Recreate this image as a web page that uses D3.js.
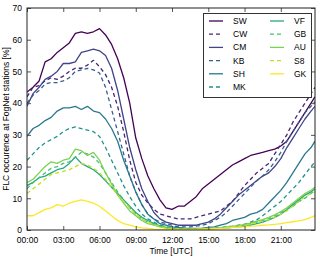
<!DOCTYPE html>
<html>
<head>
<meta charset="utf-8">
<script src="https://cdn.jsdelivr.net/npm/d3@7"></script>
<style>
  body { margin: 0; background: #fff; }
  svg { display: block; font-family: "Liberation Sans", Arial, sans-serif; }
</style>
</head>
<body>
<svg id="chart" width="320" height="257"></svg>
<script>
// time of day in hours, 30 min steps
const hours = [0,0.5,1,1.5,2,2.5,3,3.5,4,4.5,5,5.5,6,6.5,7,7.5,8,8.5,9,9.5,10,10.5,11,11.5,
  12,12.5,13,13.5,14,14.5,15,15.5,16,16.5,17,17.5,18,18.5,19,19.5,20,20.5,21,21.5,22,22.5,23,23.5,23.83];

const stations = ["SW","CW","CM","KB","SH","MK","VF","GB","AU","S8","GK"];

const SW = [43.5,45,47,53,54,56,57.5,59,62,62.5,62,62.5,63.5,61.5,58.5,54,48,40,29,22.5,17,13,9.5,7,
  6.5,7.5,7.5,9,10.5,13,14.5,16,17.5,19,20.5,21.5,22.5,23.5,24,24.5,25,25.5,26.5,28,31,34,37,40,42];
const CW = [42,45,45.5,47,48,47.5,48.5,50,51,51,52,53.5,51.5,49,45,39,31,22,15,11,8.5,6.5,5,4.5,
  4,3.5,3.5,3.5,4,4.5,5,5.5,6,7.5,9,11.5,14,16,18,19.5,21,24,27,30,34,37,40,43,45];
const CM = [39,43,45,47.5,48.5,50,52.5,52.5,53,56,56.5,57,56.5,55,51,44,35,26,19,13,9,5.5,3.5,2.5,
  2,1.5,1.5,1.5,1.5,2,2.5,3.5,5,7,9,11,12.5,14,15.5,17,18,20,22.5,26,29,32,35,37.5,39];
const KB = [40,42.5,44,46,46.5,46.5,47,48,50,50.5,51,50.5,49.5,45,38,31,24,17,12,8,5,3.5,2.5,2,
  1.5,1,1,1,1.2,1.5,2,3,4,5.5,7.5,9.5,11.5,13.5,15.5,17,19,21.5,24.5,28,31,34,37,39,40.5];
const SH = [29.5,32,33,34.5,35.5,37.5,38.5,38.5,39,38,39,37.5,37,35,32,28,22,17,12,8,5,3.5,2,1.5,
  1,0.8,0.6,0.5,0.5,0.6,0.8,1,1.5,2,3,3.5,4,5,5.5,6.5,8.5,10.5,12.5,15,18,21,24,26,28];
const MK = [22,24,26,27.5,28.5,29.5,31,32,32.5,32,31.5,31,29.5,26,22,18,14,10.5,7.5,5,3.5,2.5,1.5,1,
  0.7,0.5,0.4,0.3,0.3,0.4,0.5,0.6,0.8,1,1.2,1.5,1.8,2.5,3.2,4.5,6,7.5,9,11,13,15,17.5,20,21.5];
const VF = [14,15,16.5,17,18,19,19.5,21,23,21,20,19,17.5,15.5,13.5,11.5,9.5,7.5,5.5,4,3,2,1.3,0.8,
  0.5,0.4,0.3,0.3,0.3,0.3,0.4,0.5,0.5,0.6,0.8,1,1.2,1.5,2,2.5,3.2,4,5,6.5,8,9.5,11,12,13];
const GB = [13,15,16.5,18,19.5,20,21,21.5,23,24.5,24,23,21,18,15,12,9.5,7,5,3.5,2.5,1.8,1.2,0.8,
  0.5,0.4,0.3,0.3,0.3,0.3,0.4,0.5,0.6,0.8,1,1.2,1.5,2,2.5,3,3.5,4.5,5.5,6.5,7.5,9,10,11.5,12.5];
const AU = [15,16,18,20,21.5,21,22,22.5,25.5,25,23.5,24.5,22,18,14.5,11,8.5,6,4.5,3,2,1.5,1,0.6,
  0.4,0.3,0.3,0.3,0.3,0.4,0.5,0.6,0.7,0.9,1.1,1.4,1.8,2.2,2.8,3.3,4,4.8,5.8,7,8.5,10,11.5,12.5,13.5];
const S8 = [11.5,13,14.5,16,17.5,18,18.5,19,20,21,20.5,19.5,18,16,13.5,11,9,7,5,3.5,2.5,1.7,1.1,0.7,
  0.5,0.4,0.3,0.3,0.3,0.3,0.4,0.5,0.6,0.7,0.9,1.1,1.4,1.8,2.3,2.8,3.3,4,5,6,7.5,9,10.5,11.5,12];
const GK = [4.5,4.5,5.5,6.5,7,8,7.5,8.5,9,9.5,9,8.5,7.5,6,4.5,3,2,1.5,1,0.7,0.5,0.3,0.2,0.2,
  0.1,0.1,0.1,0.1,0.2,0.2,0.3,0.4,0.5,0.6,0.8,0.9,1,1.2,1.3,1.5,1.6,1.8,2,2.3,2.6,2.9,3.3,4,4.5];

const values = [SW, CW, CM, KB, SH, MK, VF, GB, AU, S8, GK];
const xTicks = [0, 3, 6, 9, 12, 15, 18, 21];
const yTicks = [0, 10, 20, 30, 40, 50, 60, 70];

const svg = d3.select("#chart");
const mLeft = 27, mRight = 315, mTop = 8, mBottom = 230;

const x = d3.scaleLinear().domain([0, 23.83]).range([mLeft, mRight]);
const y = d3.scaleLinear().domain([0, 70]).range([mBottom, mTop]);
const color = (i) => d3.interpolateViridis(i / (stations.length - 1));
const dash = (i) => (i % 2 === 1 ? "4,3" : null);

const line = d3.line().x((d) => x(d[0])).y((d) => y(d[1]));

svg.append("clipPath").attr("id", "clip")
  .append("rect").attr("x", mLeft).attr("y", mTop)
  .attr("width", mRight - mLeft).attr("height", mBottom - mTop);

const lines = svg.append("g").attr("clip-path", "url(#clip)");
values.forEach((vals, i) => {
  lines.append("path")
    .datum(hours.map((h, j) => [h, vals[j]]))
    .attr("d", line)
    .attr("fill", "none")
    .attr("stroke", color(i))
    .attr("stroke-width", 1.3)
    .attr("stroke-dasharray", dash(i))
    .attr("stroke-linejoin", "round");
});

// axes with inward ticks on all sides
const fmt = (h) => String(h).padStart(2, "0") + ":00";
svg.append("g").attr("transform", `translate(0,${mBottom})`)
  .call(d3.axisBottom(x).tickValues(xTicks).tickFormat(fmt).tickSizeInner(-4).tickSizeOuter(0).tickPadding(7));
svg.append("g").attr("transform", `translate(0,${mTop})`)
  .call(d3.axisTop(x).tickValues(xTicks).tickFormat("").tickSizeInner(-4).tickSizeOuter(0));
svg.append("g").attr("transform", `translate(${mLeft},0)`)
  .call(d3.axisLeft(y).tickValues(yTicks).tickSizeInner(-4).tickSizeOuter(0).tickPadding(5));
svg.append("g").attr("transform", `translate(${mRight},0)`)
  .call(d3.axisRight(y).tickValues(yTicks).tickFormat("").tickSizeInner(-4).tickSizeOuter(0));

svg.selectAll(".tick text").attr("font-size", 8.5).attr("fill", "#000");
svg.selectAll(".tick line").attr("stroke", "#555");
svg.selectAll(".domain").remove();
svg.selectAll("g[font-family]").attr("font-family", null);

svg.append("rect")
  .attr("x", mLeft).attr("y", mTop)
  .attr("width", mRight - mLeft).attr("height", mBottom - mTop)
  .attr("fill", "none").attr("stroke", "#222").attr("stroke-width", 1);

svg.append("text")
  .attr("x", (mLeft + mRight) / 2).attr("y", 254)
  .attr("text-anchor", "middle").attr("font-size", 8.5)
  .text("Time [UTC]");
svg.append("text")
  .attr("transform", `translate(9,${(mTop + mBottom) / 2}) rotate(-90)`)
  .attr("text-anchor", "middle").attr("font-size", 8.5)
  .text("FLC occurence at FogNet stations [%]");

// legend
const legend = svg.append("g");
legend.append("rect")
  .attr("x", 203.5).attr("y", 13.5).attr("width", 108).attr("height", 84)
  .attr("fill", "#fff").attr("stroke", "#333").attr("stroke-width", 1);
stations.forEach((name, i) => {
  const col = Math.floor(i / 6), row = i % 6;
  const lx = 209 + col * 61, ly = 21 + row * 13.2;
  legend.append("line")
    .attr("x1", lx).attr("x2", lx + 14).attr("y1", ly).attr("y2", ly)
    .attr("stroke", color(i)).attr("stroke-width", 1.3)
    .attr("stroke-dasharray", dash(i));
  legend.append("text")
    .attr("x", lx + 24).attr("y", ly + 3)
    .attr("font-size", 8.5)
    .text(name);
});
</script>
</body>
</html>
